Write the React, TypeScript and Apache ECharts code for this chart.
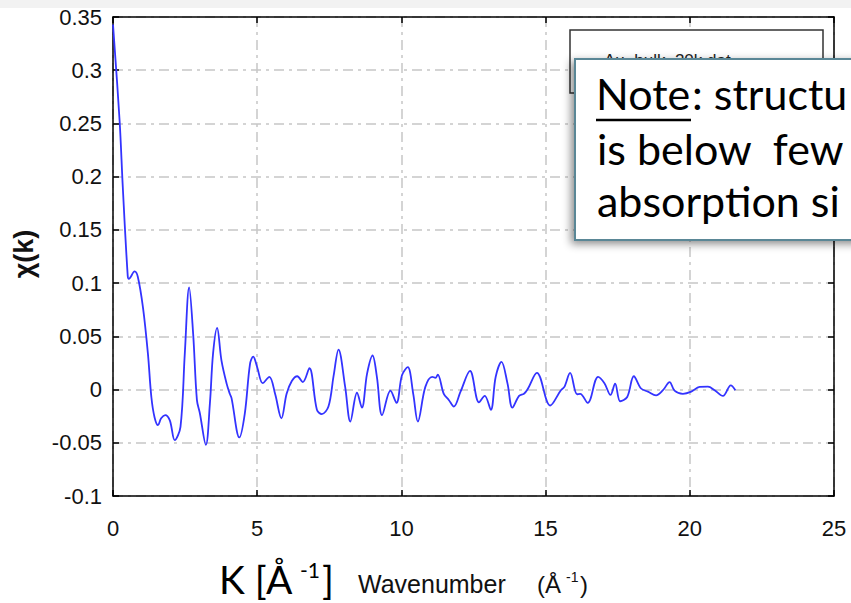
import React, { useEffect, useRef } from "react";
import * as echarts from "echarts";

// Wavenumber k (Å^-1)
const kValues: number[] = [
  0.0, 0.23, 0.34, 0.51, 0.55, 0.75, 0.86, 1.04, 1.21, 1.33, 1.44, 1.56, 1.67, 1.81, 1.97,
  2.14, 2.34, 2.49, 2.64, 2.78, 2.91, 3.01, 3.22, 3.36, 3.47, 3.61, 3.76, 3.94, 4.05, 4.11,
  4.38, 4.57, 4.75, 4.86, 5.0, 5.19, 5.42, 5.62, 5.84, 6.02, 6.2, 6.39, 6.58, 6.81, 7.07,
  7.24, 7.47, 7.65, 7.82, 8.05, 8.23, 8.46, 8.63, 8.81, 9.0, 9.15, 9.33, 9.62, 9.83, 10.02,
  10.22, 10.41, 10.57, 10.83, 11.07, 11.18, 11.26, 11.47, 11.65, 11.82, 12.05, 12.38, 12.69,
  12.89, 13.1, 13.27, 13.47, 13.68, 13.85, 14.08, 14.25, 14.37, 14.7, 15.16, 15.53, 15.65,
  15.85, 16.09, 16.2, 16.46, 16.82, 17.04, 17.25, 17.41, 17.59, 17.83, 18.06, 18.31, 18.55,
  18.83, 19.07, 19.3, 19.47, 19.76, 20.05, 20.34, 20.63, 20.86, 21.15, 21.42, 21.58,
];

// chi(k) values
const chiValues: number[] = [
  0.343, 0.252, 0.19, 0.107, 0.104, 0.111, 0.106, 0.077, 0.034, -0.007, -0.026, -0.0335, -0.027,
  -0.024, -0.029, -0.0475, -0.035, 0.034, 0.096, 0.052, -0.01, -0.022, -0.052, -0.013, 0.034,
  0.058, 0.0275, 0.0056, -0.004, -0.008, -0.045, -0.0225, 0.024, 0.031, 0.021, 0.006, 0.012,
  -0.004, -0.027, -0.004, 0.008, 0.0125, 0.007, 0.02, -0.019, -0.023, -0.016, 0.013, 0.0375,
  0.0025, -0.03, -0.003, -0.017, 0.015, 0.032, 0.012, -0.024, -0.001, -0.0125, 0.0134, 0.021,
  -0.004, -0.03, 0.0025, 0.012, 0.011, 0.014, -0.004, -0.01, -0.016, -0.002, 0.0175, -0.012,
  -0.006, -0.019, 0.012, 0.026, 0.0056, -0.017, -0.006, -0.004, 0.0, 0.0156, -0.015, -0.0006,
  0.0025, 0.0156, -0.0044, -0.004, -0.0125, 0.012, 0.006, -0.005, 0.0056, -0.011, -0.007,
  0.0125, 0.001, -0.002, -0.0055, -0.0006, 0.007, -0.001, -0.004, -0.002, 0.0025, 0.0027,
  -0.0006, -0.006, 0.004, -0.0006,
];

const xTicks: number[] = [0, 5, 10, 15, 20, 25];
const yTickLabels: string[] = ["-0.1", "-0.05", "0", "0.05", "0.1", "0.15", "0.2", "0.25", "0.3", "0.35"];

const legendLabel = "Au_bulk_20k.dat";
const noteLines: string[] = ["structu", "is below  few", "absorption si"];

const AXIS_FONT = '"Liberation Sans Narrow", "Arial Narrow", "Liberation Sans", Arial, sans-serif';
const NOTE_FONT = 'Lato, "Noto Sans", sans-serif';

export default function App() {
  const ref = useRef<HTMLDivElement>(null);

  useEffect(() => {
    if (!ref.current) return;
    const chart = echarts.init(ref.current, undefined, { renderer: "svg" });
    const data = kValues.map((k, i) => [k, chiValues[i]]);
    const gridStyle = { color: "#c6c6c6", width: 1.5, type: [10, 5, 3, 5] as number[] };
    const axisLineStyle = { show: true, onZero: false, lineStyle: { color: "#000", width: 1.5 } };
    const tickStyle = { show: true, inside: true, length: 6, lineStyle: { color: "#000", width: 1.5 } };
    const yFmt = (v: number) => {
      const s = parseFloat(v.toFixed(2)).toString();
      return yTickLabels.includes(s) ? s : "";
    };

    chart.setOption({
      animation: false,
      backgroundColor: "#ffffff",
      grid: { left: 113, right: 17, top: 17, bottom: 107, containLabel: false },
      xAxis: [
        {
          type: "value",
          min: xTicks[0],
          max: xTicks[xTicks.length - 1],
          interval: 5,
          axisLine: axisLineStyle,
          axisTick: tickStyle,
          axisLabel: {
            margin: 21,
            color: "#111",
            fontSize: 22,
            fontFamily: AXIS_FONT,
            formatter: (v: number) => (xTicks.includes(v) ? String(v) : ""),
          },
          splitLine: { show: true, lineStyle: gridStyle },
        },
        {
          type: "value",
          position: "top",
          min: xTicks[0],
          max: xTicks[xTicks.length - 1],
          interval: 5,
          axisLine: axisLineStyle,
          axisTick: tickStyle,
          axisLabel: { show: false },
          splitLine: { show: false },
        },
      ],
      yAxis: [
        {
          type: "value",
          min: -0.1,
          max: 0.35,
          interval: 0.05,
          axisLine: axisLineStyle,
          axisTick: tickStyle,
          axisLabel: { margin: 11, color: "#111", fontSize: 22, fontFamily: AXIS_FONT, formatter: yFmt },
          splitLine: { show: true, lineStyle: gridStyle },
        },
        {
          type: "value",
          position: "right",
          min: -0.1,
          max: 0.35,
          interval: 0.05,
          axisLine: axisLineStyle,
          axisTick: tickStyle,
          axisLabel: { show: false },
          splitLine: { show: false },
        },
      ],
      series: [
        {
          type: "line",
          xAxisIndex: 0,
          yAxisIndex: 0,
          data,
          smooth: 0.35,
          showSymbol: false,
          lineStyle: { color: "#3333ff", width: 1.8 },
          z: 5,
        },
      ],
      graphic: [
        {
          type: "rect",
          z: 10,
          shape: { x: 0, y: 0, width: 851, height: 8 },
          style: { fill: "#f2f2f2" },
        },
        {
          type: "text",
          z: 10,
          x: 24,
          y: 254,
          rotation: Math.PI / 2,
          style: {
            text: "χ(k)",
            fontSize: 27,
            fontWeight: "bold",
            fontFamily: '"Liberation Sans", Arial, sans-serif',
            fill: "#111",
            textAlign: "center",
            textVerticalAlign: "middle",
          },
        },
        {
          type: "rect",
          z: 20,
          shape: { x: 570, y: 30, width: 253, height: 63 },
          style: { fill: "#fff", stroke: "#333", lineWidth: 1.5 },
        },
        {
          type: "text",
          z: 21,
          x: 604,
          y: 52,
          style: { text: legendLabel, fontSize: 17, fontFamily: '"Liberation Sans", Arial, sans-serif', fill: "#222" },
        },
        {
          type: "rect",
          z: 30,
          shape: { x: 575, y: 59, width: 290, height: 181 },
          style: {
            fill: "#fff",
            stroke: "#5a8796",
            lineWidth: 2,
            shadowBlur: 8,
            shadowColor: "rgba(0,0,0,0.45)",
            shadowOffsetX: -3,
            shadowOffsetY: 3,
          },
        },
        {
          type: "text",
          z: 31,
          x: 596,
          y: 115,
          style: { text: "Note", fontSize: 43, fontFamily: NOTE_FONT, fill: "#000", textVerticalAlign: "bottom" },
        },
        {
          type: "line",
          z: 31,
          shape: { x1: 596, y1: 120, x2: 691, y2: 120 },
          style: { stroke: "#000", lineWidth: 2.5 },
        },
        {
          type: "text",
          z: 31,
          x: 692,
          y: 115,
          style: { text: ": " + noteLines[0], fontSize: 43, fontFamily: NOTE_FONT, fill: "#000", textVerticalAlign: "bottom" },
        },
        {
          type: "text",
          z: 31,
          x: 597,
          y: 170,
          style: { text: noteLines[1], fontSize: 43, fontFamily: NOTE_FONT, fill: "#000", textVerticalAlign: "bottom" },
        },
        {
          type: "text",
          z: 31,
          x: 597,
          y: 222,
          style: { text: noteLines[2], fontSize: 43, fontFamily: NOTE_FONT, fill: "#000", textVerticalAlign: "bottom" },
        },
        {
          type: "text",
          z: 10,
          x: 219,
          y: 598,
          style: { text: "K [Å", fontSize: 39, fontFamily: NOTE_FONT, fill: "#000", textVerticalAlign: "bottom" },
        },
        {
          type: "text",
          z: 10,
          x: 300,
          y: 580,
          style: { text: "-1", fontSize: 21, fontFamily: NOTE_FONT, fill: "#000", textVerticalAlign: "bottom" },
        },
        {
          type: "text",
          z: 10,
          x: 322,
          y: 598,
          style: { text: "]", fontSize: 39, fontFamily: NOTE_FONT, fill: "#000", textVerticalAlign: "bottom" },
        },
        {
          type: "text",
          z: 10,
          x: 358,
          y: 596,
          style: { text: "Wavenumber", fontSize: 25, fontFamily: AXIS_FONT, fill: "#111", textVerticalAlign: "bottom" },
        },
        {
          type: "text",
          z: 10,
          x: 537,
          y: 596,
          style: { text: "(Å", fontSize: 24, fontFamily: AXIS_FONT, fill: "#111", textVerticalAlign: "bottom" },
        },
        {
          type: "text",
          z: 10,
          x: 566,
          y: 584,
          style: { text: "-1", fontSize: 14, fontFamily: AXIS_FONT, fill: "#111", textVerticalAlign: "bottom" },
        },
        {
          type: "text",
          z: 10,
          x: 580,
          y: 596,
          style: { text: ")", fontSize: 24, fontFamily: AXIS_FONT, fill: "#111", textVerticalAlign: "bottom" },
        },
      ],
    });
    return () => chart.dispose();
  }, []);

  return (
    <div
      ref={ref}
      style={{ position: "fixed", left: 0, top: 0, width: 851, height: 603, background: "#fff" }}
    />
  );
}
